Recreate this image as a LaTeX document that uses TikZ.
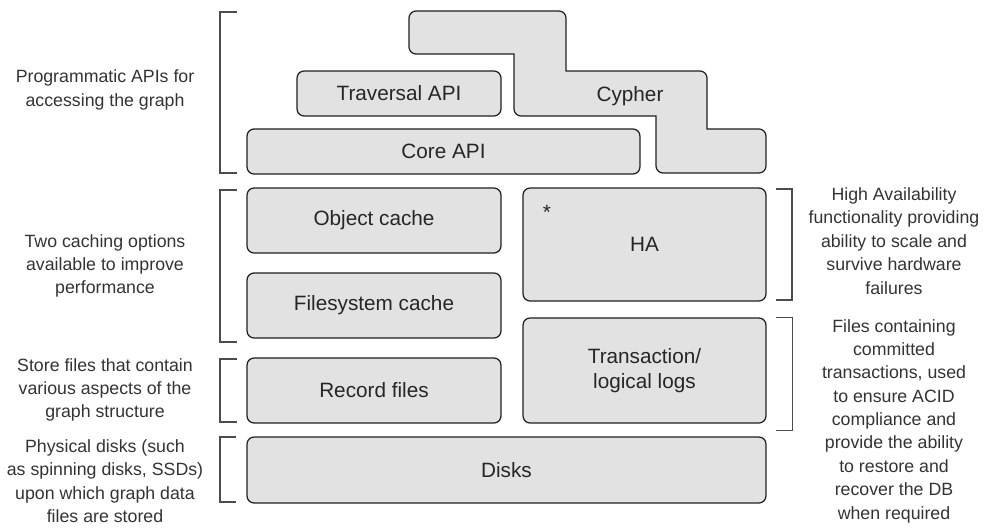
\documentclass[tikz,border=0pt]{standalone}
\usepackage{fontspec}
\setmainfont{Liberation Sans}
\definecolor{layergray}{RGB}{226,226,226}
\definecolor{notegray}{RGB}{51,51,51}
\begin{document}
\begin{tikzpicture}[x=0.02cm,y=-0.02cm,
    layer/.style={draw=black!88,fill=layergray,rounded corners=4pt,line width=0.7pt,
      inner sep=0pt,align=center,font=\fontsize{11.8}{14.2}\selectfont,text=black!85},
    note/.style={align=center,font=\fontsize{10.1}{13.3}\selectfont,text=notegray},
    brace/.style={draw=black!70,line width=0.85pt,line join=miter}]
    \useasboundingbox (0,0) rectangle (987,531);
    \draw[layer] (514,54) [rounded corners=4pt] -- (409,54) -- (409,11) -- (566,11)
        [sharp corners] -- (566,71) [rounded corners=4pt] -- (707,71)
        [sharp corners] -- (707,129) [rounded corners=4pt] -- (766,129) -- (766,173) -- (656,173)
        [sharp corners] -- (656,116) [rounded corners=4pt] -- (514,116) [sharp corners] -- cycle;
    \node[font=\fontsize{11.8}{14.2}\selectfont,text=black!85] (cypher) at (630,96) {Cypher};
    \node[layer,minimum width=4.08cm,minimum height=0.9cm] (traversal) at (399,93.5) {Traversal API};
    \node[layer,minimum width=7.86cm,minimum height=0.9cm] (core) at (443.5,151.5) {Core API};
    \node[layer,minimum width=5.08cm,minimum height=1.3cm] (objcache) at (374,220.5) {Object cache};
    \node[layer,minimum width=5.08cm,minimum height=1.3cm] (fscache) at (374,305.5) {Filesystem cache};
    \node[layer,minimum width=5.08cm,minimum height=1.3cm] (records) at (374,390.5) {Record files};
    \node[layer,minimum width=4.86cm,minimum height=2.26cm] (ha) at (644.5,244.5) {HA};
    \node[font=\fontsize{11.8}{14.2}\selectfont,text=black!85,anchor=base] (star) at (547,219) {*};
    \node[layer,minimum width=4.86cm,minimum height=2.1cm] (txlogs) at (644.5,370.5) {Transaction/\\logical logs};
    \node[layer,minimum width=10.38cm,minimum height=1.32cm] (disks) at (506.5,470) {Disks};
    \begin{scope}[every node/.style={note}]
        \node (apinote) at (105,90) {Programmatic APIs for\\accessing the graph};
        \node (cachenote) at (105,266) {Two caching options\\available to improve\\performance};
        \node (recnote) at (105,390) {Store files that contain\\various aspects of the\\graph structure};
        \node (disknote) at (105,481) {Physical disks (such\\as spinning disks, SSDs)\\upon which graph data\\files are stored};
        \node (hanote) at (894,241) {High Availability\\functionality providing\\ability to scale and\\survive hardware\\failures};
        \node (txnote) at (894,421) {Files containing\\committed\\transactions, used\\to ensure ACID\\compliance and\\provide the ability\\to restore and\\recover the DB\\when required};
    \end{scope}
    \draw[brace] (237,12) -- (220,12) -- (220,173) -- (237,173);
    \draw[brace] (237,190) -- (220,190) -- (220,342) -- (237,342);
    \draw[brace] (237,359) -- (220,359) -- (220,422) -- (237,422);
    \draw[brace] (236,437) -- (220,437) -- (220,502) -- (236,502);
    \draw[brace] (776,189) -- (792,189) -- (792,300) -- (776,300);
    \draw[brace,line width=0.55pt] (776,317) -- (792,317) -- (792,430) -- (776,430);
\end{tikzpicture}
\end{document}
